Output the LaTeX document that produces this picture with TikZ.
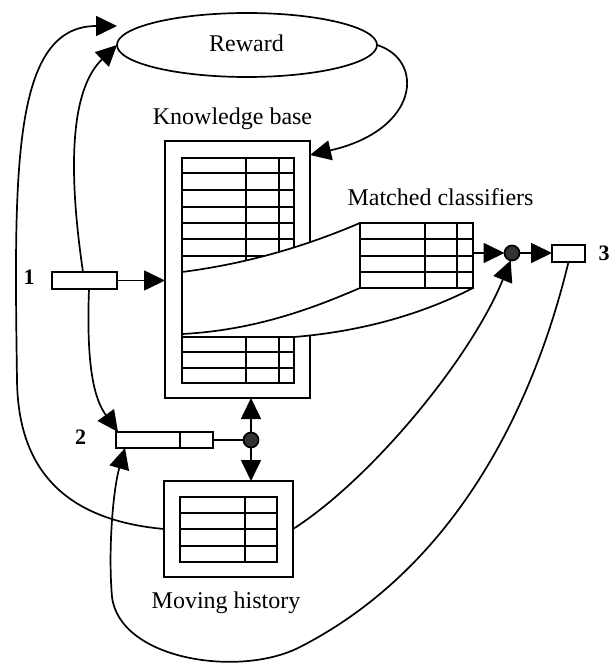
\documentclass[tikz,border=0pt]{standalone}
\usepackage{fontspec}
\setmainfont{Liberation Serif}
\usetikzlibrary{arrows.meta,shapes.geometric}
\begin{document}
\begin{tikzpicture}[x=1pt,y=-1pt,
  line width=1.7pt,
  every node/.style={inner sep=0pt, outer sep=0pt},
  lbl/.style={font=\fontsize{24}{28}\selectfont},
  num/.style={font=\fontsize{22}{24}\selectfont\bfseries},
  box/.style={draw, fill=white, rectangle},
  arr/.style={-{Triangle[length=21pt,width=20pt]}},
  dot/.style={circle, draw, fill=black!80, minimum size=15pt},
]
\useasboundingbox (0,0) rectangle (612,663);

% Reward
\node[ellipse, draw, minimum width=260pt, minimum height=64pt] (reward) at (247,45) {};
\node[lbl, anchor=base] (rewardl) at (246.5,52) {Reward};

% Knowledge base
\node[lbl, anchor=base] (kbl) at (232.5,125) {Knowledge base};
\node[box, minimum width=145pt, minimum height=257pt] (kb) at (237.5,269.5) {};
\draw (182,158) rectangle (294,383);
\foreach \y in {173,190,207,223,239,256,337,352,368} \draw (182,\y) -- (294,\y);
\draw (246,158) -- (246,383);
\draw (279,158) -- (279,383);
% band
\fill[white] (182,272) .. controls (260,262) and (320,240) .. (360,223) -- (473,223) -- (473,288)
  .. controls (440,305) and (380,330) .. (294,337) -- (182,337) -- cycle;
\draw (182,272) -- (182,337) -- (294,337);

% Matched classifiers
\node[lbl, anchor=base] (mcl) at (440.5,205) {Matched classifiers};
\node[box, minimum width=113pt, minimum height=65pt] (mc) at (416.5,255.5) {};
\foreach \y in {239,256,272} \draw (360,\y) -- (473,\y);
\draw (425,223) -- (425,288);
\draw (457,223) -- (457,288);
\draw (182,272) .. controls (260,262) and (320,240) .. (mc.north west);
\draw (182,334) .. controls (260,330) and (320,305) .. (mc.south west);
\draw (294,337) .. controls (380,330) and (440,305) .. (mc.south east);

% Moving history
\node[box, minimum width=129pt, minimum height=96pt] (mh) at (228.5,529) {};
\draw (180,497) rectangle (277,562);
\foreach \y in {513,529,546} \draw (180,\y) -- (277,\y);
\draw (245,497) -- (245,562);
\node[lbl, anchor=base] (mhl) at (226,608) {Moving history};

% small boxes and dots
\node[box, minimum width=65pt, minimum height=17pt] (b1) at (84.5,280.5) {};
\node[box, minimum width=97pt, minimum height=16pt] (b2) at (164.5,440) {};
\draw (180,432) -- (180,448);
\node[box, minimum width=33pt, minimum height=17pt] (b3) at (568.5,253.5) {};
\node[dot] (c1) at (512,253) {};
\node[dot] (c2) at (251,440) {};
\node[num, anchor=base] (n1) at (29,284) {1};
\node[num, anchor=base] (n2) at (80.5,444) {2};
\node[num, anchor=base] (n3) at (604,260) {3};

% connectors
\coordinate (rtop) at (117,26);
\draw[arr] (b1.east) -- (b1.east -| kb.west);
\draw[arr] ([xshift=-1.5pt]b1.north) .. controls (68,170) and (70,90) .. (reward.west);
\draw[arr] ([xshift=4.5pt]b1.south) .. controls (86,370) and (95,400) .. ([xshift=2pt]b2.north west);
\draw[arr] (mh.west) .. controls (65,520) and (18,470) .. (17,380) .. controls (14,170) and (12,26) .. (rtop);
\draw[arr] (reward.east) .. controls (425,60) and (420,130) .. ([yshift=-14pt]kb.north east);
\draw[arr] (mc.east |- c1) -- (c1.west);
\draw[arr] (c1.east) -- (c1.east -| b3.west);
\draw[arr] (mh.east) .. controls (370,480) and (470,360) .. (c1.-100);
\draw (b2.east) -- (c2.west);
\draw[arr] (c2.north) -- (c2.north |- kb.south);
\draw[arr] (c2.south) -- (c2.south |- mh.north);
\draw[arr] (b3.south) .. controls (540,380) and (470,560) .. (300,647)
  .. controls (240,678) and (120,660) .. (112,597)
  .. controls (108,550) and (113,490) .. ([xshift=9pt]b2.south west);
\end{tikzpicture}
\end{document}
